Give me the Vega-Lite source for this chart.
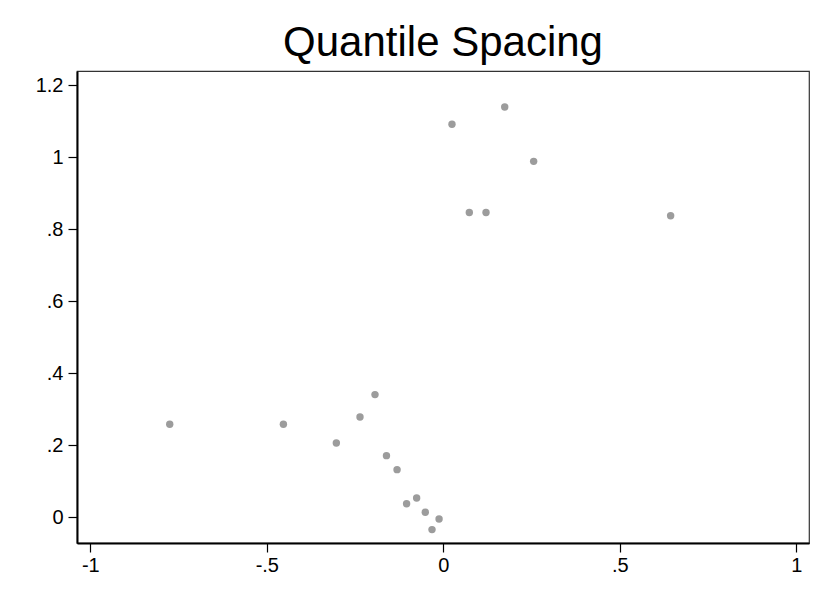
{
  "$schema": "https://vega.github.io/schema/vega-lite/v6.json",
  "width": 732,
  "height": 472,
  "autosize": "none",
  "padding": {"left": 77, "top": 71, "right": 21, "bottom": 61},
  "background": "white",
  "config": {
    "view": {"stroke": "#333333", "strokeWidth": 1.2},
    "font": "Liberation Sans"
  },
  "title": {
    "text": "Quantile Spacing",
    "fontSize": 42,
    "font": "Liberation Sans",
    "fontWeight": "normal",
    "color": "black",
    "anchor": "middle",
    "offset": 6
  },
  "data": {
    "values": [
      {"x": -0.775, "y": 0.2575},
      {"x": -0.453, "y": 0.2575},
      {"x": -0.1935, "y": 0.340},
      {"x": -0.236, "y": 0.278},
      {"x": -0.303, "y": 0.2056},
      {"x": -0.161, "y": 0.1705},
      {"x": -0.131, "y": 0.1316},
      {"x": -0.0755, "y": 0.0528},
      {"x": -0.104, "y": 0.037},
      {"x": -0.051, "y": 0.013},
      {"x": -0.012, "y": -0.0056},
      {"x": -0.032, "y": -0.035},
      {"x": 0.174, "y": 1.139},
      {"x": 0.0246, "y": 1.091},
      {"x": 0.256, "y": 0.988},
      {"x": 0.0737, "y": 0.846},
      {"x": 0.121, "y": 0.846},
      {"x": 0.644, "y": 0.837}
    ]
  },
  "mark": {"type": "circle", "color": "#9c9c9c", "opacity": 1, "size": 55},
  "encoding": {
    "x": {
      "field": "x", "type": "quantitative",
      "scale": {"domain": [-1.0377, 1.036], "nice": false, "zero": false},
      "axis": {
        "title": null, "grid": false,
        "values": [-1, -0.5, 0, 0.5, 1],
        "labelExpr": "replace(replace(format(datum.value, '~g'), '0.', '.'), '\u2212', '-')",
        "labelFontSize": 20, "labelColor": "black", "labelFont": "Liberation Sans",
        "tickSize": 9, "tickColor": "black", "tickWidth": 1.2,
        "domainColor": "black", "domainWidth": 2,
        "labelPadding": 3
      }
    },
    "y": {
      "field": "y", "type": "quantitative",
      "scale": {"domain": [-0.0722, 1.239], "nice": false, "zero": false},
      "axis": {
        "title": null, "grid": false,
        "values": [0, 0.2, 0.4, 0.6, 0.8, 1, 1.2],
        "labelExpr": "replace(replace(format(datum.value, '~g'), '0.', '.'), '\u2212', '-')",
        "labelFontSize": 20, "labelColor": "black", "labelFont": "Liberation Sans",
        "tickSize": 9, "tickColor": "black", "tickWidth": 1.2,
        "domainColor": "black", "domainWidth": 2,
        "labelPadding": 5
      }
    }
  }
}
